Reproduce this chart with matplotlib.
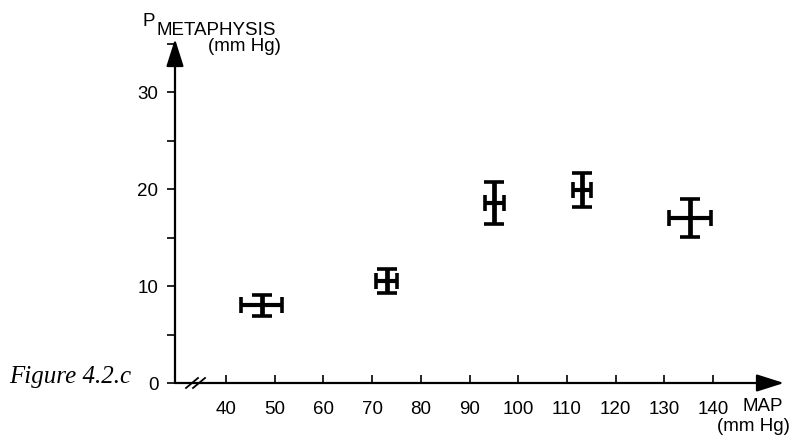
import matplotlib
matplotlib.use("Agg")
import matplotlib.pyplot as plt
from matplotlib.ticker import MultipleLocator

# Mean arterial pressure (MAP) vs. metaphyseal pressure, means with error ranges
map_mean = [47.3, 73.0, 95.1, 113.2, 135.3]
map_err = [4.2, 2.15, 1.95, 1.85, 4.3]
p_meta_mean = [8.0, 10.5, 18.6, 19.9, 17.0]
p_meta_err = [1.05, 1.25, 2.15, 1.75, 1.95]

x_ticks = [40, 50, 60, 70, 80, 90, 100, 110, 120, 130, 140]
y_ticks = [0, 10, 20, 30]

W, H = 791, 440
fig = plt.figure(figsize=(W / 100, H / 100), dpi=100)
fig.patch.set_facecolor("white")

left_px, right_px, bottom_px, top_px = 175, 784, 383, 39
ax = fig.add_axes([left_px / W, 1 - bottom_px / H,
                   (right_px - left_px) / W, (bottom_px - top_px) / H])

ax.set_xlim(29.5, 154.6)
ax.set_ylim(0, 35.5)

# vertical bars (pressure range) with wide caps
ax.errorbar(map_mean, p_meta_mean, yerr=p_meta_err,
            fmt="none", ecolor="black", elinewidth=3.4, capsize=7.5,
            capthick=2.6)
# horizontal bars (MAP range) with shorter caps
ax.errorbar(map_mean, p_meta_mean, xerr=map_err,
            fmt="none", ecolor="black", elinewidth=3.0, capsize=5.5,
            capthick=2.6)

for s in ax.spines.values():
    s.set_visible(False)

arrow = dict(arrowstyle="-|>,head_length=1.2,head_width=0.38",
             lw=1.6, color="black", shrinkA=0, shrinkB=0, mutation_scale=14)
ax.annotate("", xy=(1, 0), xytext=(0, 0), xycoords="axes fraction",
            arrowprops=arrow, annotation_clip=False)
ax.annotate("", xy=(0, 1), xytext=(0, 0), xycoords="axes fraction",
            arrowprops=arrow, annotation_clip=False)

# axis break marks on the horizontal axis
for dx in (0.0, 7.0):
    cx = 192 + dx
    ax.plot([(cx - 6 - left_px) / (right_px - left_px),
             (cx + 6 - left_px) / (right_px - left_px)],
            [-5 / (bottom_px - top_px), 5 / (bottom_px - top_px)],
            transform=ax.transAxes, color="black", lw=1.3, clip_on=False)

tick_font = dict(family="Liberation Sans", size=13.5)

ax.set_xticks(x_ticks)
ax.set_xticklabels([str(v) for v in x_ticks], fontdict=tick_font)
ax.tick_params(axis="x", direction="in", length=6, width=1.2, pad=13,
               top=False)

ax.set_yticks(y_ticks)
ax.set_yticklabels([str(v) for v in y_ticks], fontdict=tick_font)
ax.yaxis.set_minor_locator(MultipleLocator(5))
ax.tick_params(axis="y", which="both", direction="out", length=6,
               width=1.2, pad=6, right=False)

lab_font = dict(family="Liberation Sans", size=13.5, color="black")

def px(x, y):
    return x / W, 1 - y / H

fig.text(*px(142, 26), "P", ha="left", va="baseline", **lab_font)
fig.text(*px(156, 35), "METAPHYSIS", ha="left", va="baseline", **lab_font)
fig.text(*px(281, 51), "(mm Hg)", ha="right", va="baseline", **lab_font)

fig.text(*px(783, 411), "MAP", ha="right", va="baseline", **lab_font)
fig.text(*px(790, 431), "(mm Hg)", ha="right", va="baseline", **lab_font)

fig.text(*px(9, 383), "Figure 4.2.c", ha="left", va="baseline",
         family="Liberation Serif", style="italic", size=18, color="black")

fig.savefig("out.png", dpi=100, facecolor="white")
